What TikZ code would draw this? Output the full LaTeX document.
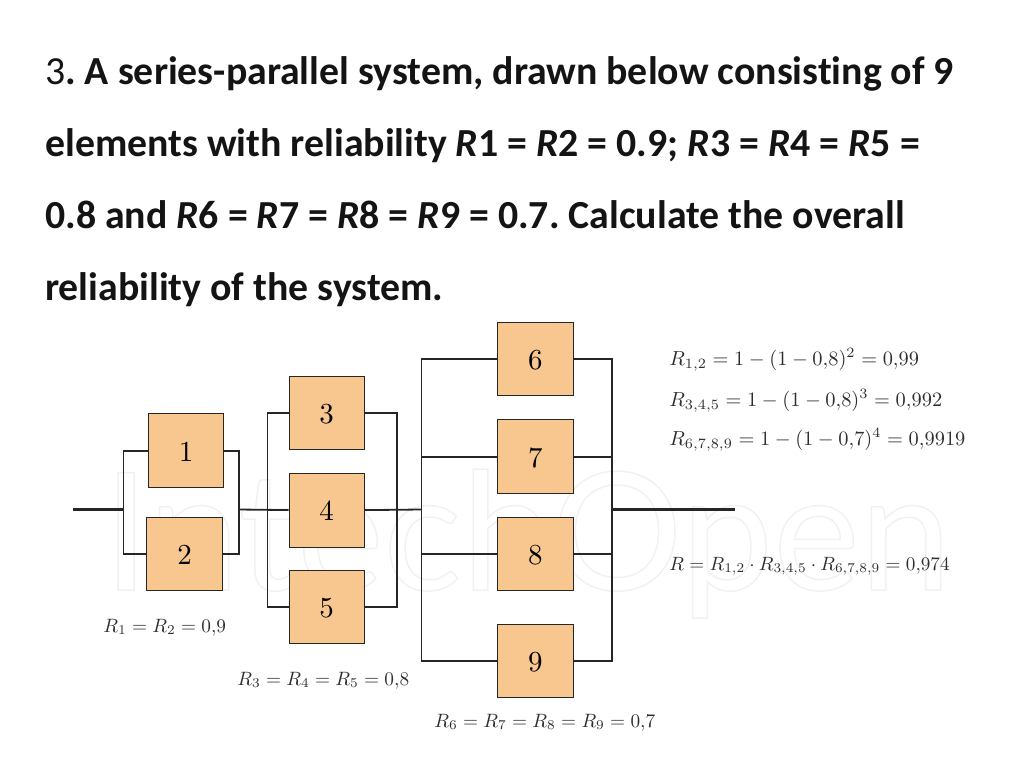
\documentclass[tikz,border=0pt]{standalone}
\usepackage{fontspec}
\setmainfont[Ligatures=NoCommon]{Carlito}
\newfontfamily\wmfont{Lato}
\definecolor{boxfill}{HTML}{F7C78F}
\definecolor{eqcol}{HTML}{2E2E2E}
\definecolor{wmcol}{HTML}{F0F1F1}
\newcommand{\rr}{\textit{R}}
\frenchspacing
\tikzset{
  blk/.style={draw=black!85,line width=1.2pt,fill=boxfill,inner sep=0pt,anchor=north west},
  wire/.style={line width=1.8pt,black!85},
  title/.style={anchor=base west,inner sep=0pt,font=\fontsize{39.8}{44}\selectfont\bfseries,text=black!92},
  eq/.style={anchor=base west,inner sep=0pt,text=eqcol,scale=1.93,transform shape},
  eqb/.style={anchor=base west,inner sep=0pt,text=eqcol,scale=2.04,transform shape},
  eqc/.style={anchor=base west,inner sep=0pt,text=eqcol,scale=1.92,transform shape},
  num/.style={text=black,scale=2.9,transform shape,yshift=-0.4pt}
}
\newcommand{\bx}[6]{\node[blk,minimum width=#4pt,minimum height=#5pt] (#1) at (#2,#3) {}; \node[num] (#1t) at (#1.center) {$#6$};}
\begin{document}
\begin{tikzpicture}[x=1pt,y=-1pt]
\useasboundingbox (0,0) rectangle (1024,768);
\node[inner sep=0pt,anchor=base west,text=wmcol,font=\fontsize{164}{170}\selectfont\wmfont] (wm) at (103,590) {\special{pdf:literal direct 1 Tr 1.5 w 0.94 0.945 0.945 RG}IntechOpen\special{pdf:literal direct 0 Tr}};
% title
\node[title] (t1) at (45,84) {{\mdseries 3}. A series-parallel system, drawn below consisting of 9};
\node[title] (t2) at (45,156) {elements with reliability \rr1 = \rr2 = 0.9; \rr3 = \rr4 = \rr5 =};
\node[title] (t3) at (45,228) {0.8 and \rr6 = \rr7 = \rr8 = \rr9 = 0.7. Calculate the overall};
\node[title] (t4) at (45,300) {reliability of the system.};
% coordinates
\coordinate (in) at (73,509.5);
\coordinate (out) at (735,509.5);
\coordinate (a1) at (123.5,509.5);
\coordinate (a2) at (239,509.5);
\coordinate (b1) at (267.5,509.5);
\coordinate (b2) at (397,509.5);
\coordinate (c1) at (421.5,509.5);
\coordinate (c2) at (612,509.5);
% blocks
\bx{n1}{148}{413}{75}{74}{1}
\bx{n2}{146}{517}{76}{73}{2}
\bx{n3}{288.5}{375.5}{75}{73}{3}
\bx{n4}{288.5}{472.5}{75}{74}{4}
\bx{n5}{288.5}{570}{75}{73}{5}
\bx{n6}{497}{322}{75.5}{73}{6}
\bx{n7}{497}{419}{75.5}{74}{7}
\bx{n8}{497}{517}{75.5}{73}{8}
\bx{n9}{497}{624}{75.5}{73}{9}
% wiring
\draw[wire,line width=2.2pt] (in) -- (a1);
\draw[wire] (a2) -- (n4.west);
\draw[wire] (n4.east) -- (c1);
\draw[wire,line width=2.2pt] (c2) -- (out);
\draw[wire] (n1.west) -| (a1);
\draw[wire] (n2.west) -| (a1);
\draw[wire] (n1.east) -| (a2);
\draw[wire] (n2.east) -| (a2);
\draw[wire] (n3.west) -| (b1);
\draw[wire] (n5.west) -| (b1);
\draw[wire] (n3.east) -| (b2);
\draw[wire] (n5.east) -| (b2);
\draw[wire] (n6.west) -| (c1);
\draw[wire] (n9.west) -| (c1);
\draw[wire] (n7.west) -| (c1);
\draw[wire] (n8.west) -| (c1);
\draw[wire] (n6.east) -| (c2);
\draw[wire] (n9.east) -| (c2);
\draw[wire] (n7.east) -| (c2);
\draw[wire] (n8.east) -| (c2);
% labels
\node[eq] (l1) at (103,632) {$R_1=R_2=0{,}9$};
\node[eq] (l2) at (237,685) {$R_3=R_4=R_5=0{,}8$};
\node[eq] (l3) at (434,727) {$R_6=R_7=R_8=R_9=0{,}7$};
\node[eqb] (e1) at (669,365) {$R_{1,2}=1-(1-0{,}8)^2=0{,}99$};
\node[eqb] (e2) at (669,406) {$R_{3,4,5}=1-(1-0{,}8)^3=0{,}992$};
\node[eqb] (e3) at (669,445) {$R_{6,7,8,9}=1-(1-0{,}7)^4=0{,}9919$};
\node[eqc] (e4) at (669,570) {$R=R_{1,2}\cdot R_{3,4,5}\cdot R_{6,7,8,9}=0{,}974$};
\end{tikzpicture}
\end{document}
